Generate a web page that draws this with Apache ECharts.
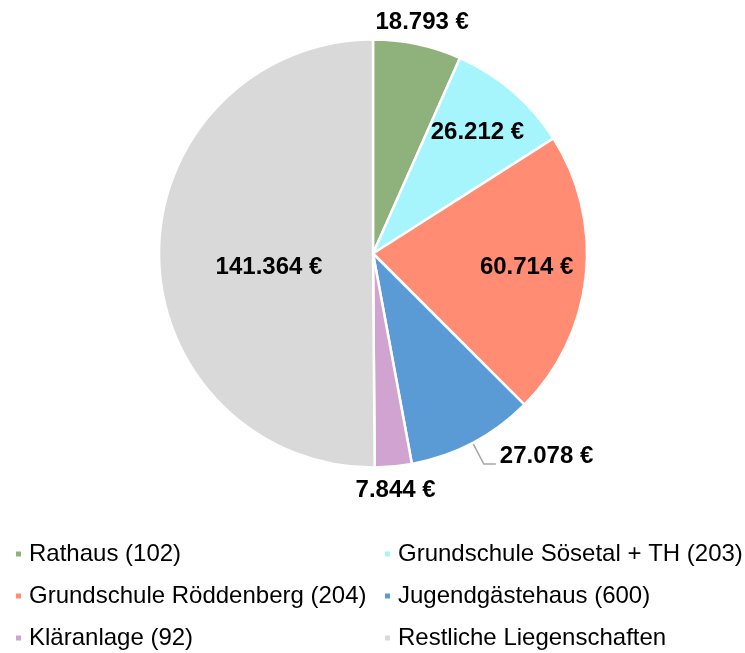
<!DOCTYPE html>
<html>
<head>
<meta charset="utf-8">
<script src="https://cdn.jsdelivr.net/npm/echarts@6/dist/echarts.min.js"></script>
<style>
  html, body { margin: 0; padding: 0; background: #fff; }
  #main { width: 745px; height: 653px; }
</style>
</head>
<body>
<div id="main"></div>
<script>
// Kosten je Liegenschaft
const names = [
    'Rathaus (102)',
    'Grundschule Sösetal + TH (203)',
    'Grundschule Röddenberg (204)',
    'Jugendgästehaus (600)',
    'Kläranlage (92)',
    'Restliche Liegenschaften'
];
const values = [18793, 26212, 60714, 27078, 7844, 141364];
const colors = ['#8fb27c', '#a6f4fc', '#ff8c73', '#5b9bd5', '#d0a3d1', '#d9d9d9'];

// where excel put the labels: fraction of radius along the slice middle (null = normal outside label)
const labelRadius = [1.105, 0.748, 0.722, null, 1.11, 0.486];
const labelShiftY = [0, 0, -3, 0, 0, 13];

const CX = 373, CY = 253.5, R = 214;
const total = values.reduce((a, b) => a + b, 0);

// middle angle of every slice, clockwise from 12 o'clock
let acc = 0;
const midAngles = values.map(v => {
    const a = (acc + v / 2) / total * Math.PI * 2;
    acc += v;
    return a;
});

const fmt = v => v.toLocaleString('de-DE') + ' €';

const myChart = echarts.init(document.getElementById('main'));

const labelFont = {
    fontFamily: '"Liberation Sans", Arial, sans-serif',
    fontWeight: 'bold',
    fontSize: 24,
    color: '#000'
};

const legendText = {
    fontFamily: '"Liberation Sans", Arial, sans-serif',
    fontSize: 24,
    lineHeight: 24,
    color: '#000',
    padding: [0, 0, 0, 2]
};

const option = {
    animation: false,
    color: colors,
    legend: [
        {
            orient: 'vertical',
            left: 14,
            top: 542,
            padding: 0,
            icon: 'rect',
            itemWidth: 7,
            itemHeight: 7,
            itemGap: 18,
            data: [names[0], names[2], names[4]],
            textStyle: legendText
        },
        {
            orient: 'vertical',
            left: 383,
            top: 542,
            padding: 0,
            icon: 'rect',
            itemWidth: 7,
            itemHeight: 7,
            itemGap: 18,
            data: [names[1], names[3], names[5]],
            textStyle: legendText
        }
    ],
    series: [
        {
            type: 'pie',
            center: [CX, CY],
            radius: [0, R],
            startAngle: 90,
            clockwise: true,
            avoidLabelOverlap: false,
            itemStyle: {
                borderColor: '#fff',
                borderWidth: 2.5
            },
            emphasis: { disabled: true },
            data: names.map((n, i) => ({
                name: n,
                value: values[i],
                label: labelRadius[i] === null
                    ? {
                        position: 'outside',
                        distanceToLabelLine: 4,
                        // text sits above the end of the leader line
                        formatter: p => fmt(p.value) + '\n{gap|}',
                        rich: { gap: { height: 16, lineHeight: 16 } }
                    }
                    : { position: 'inside' },
                labelLine: labelRadius[i] === null
                    ? { show: true, length: 24, length2: 12, lineStyle: { color: '#a6a6a6', width: 1.5 } }
                    : { show: false }
            })),
            label: Object.assign({
                formatter: p => fmt(p.value)
            }, labelFont),
            labelLayout: function (p) {
                const i = p.dataIndex;
                if (labelRadius[i] === null) return;
                const r = R * labelRadius[i];
                return {
                    x: CX + r * Math.sin(midAngles[i]),
                    y: CY - r * Math.cos(midAngles[i]) + labelShiftY[i],
                    align: 'center',
                    verticalAlign: 'middle'
                };
            }
        }
    ]
};

myChart.setOption(option);
</script>
</body>
</html>
